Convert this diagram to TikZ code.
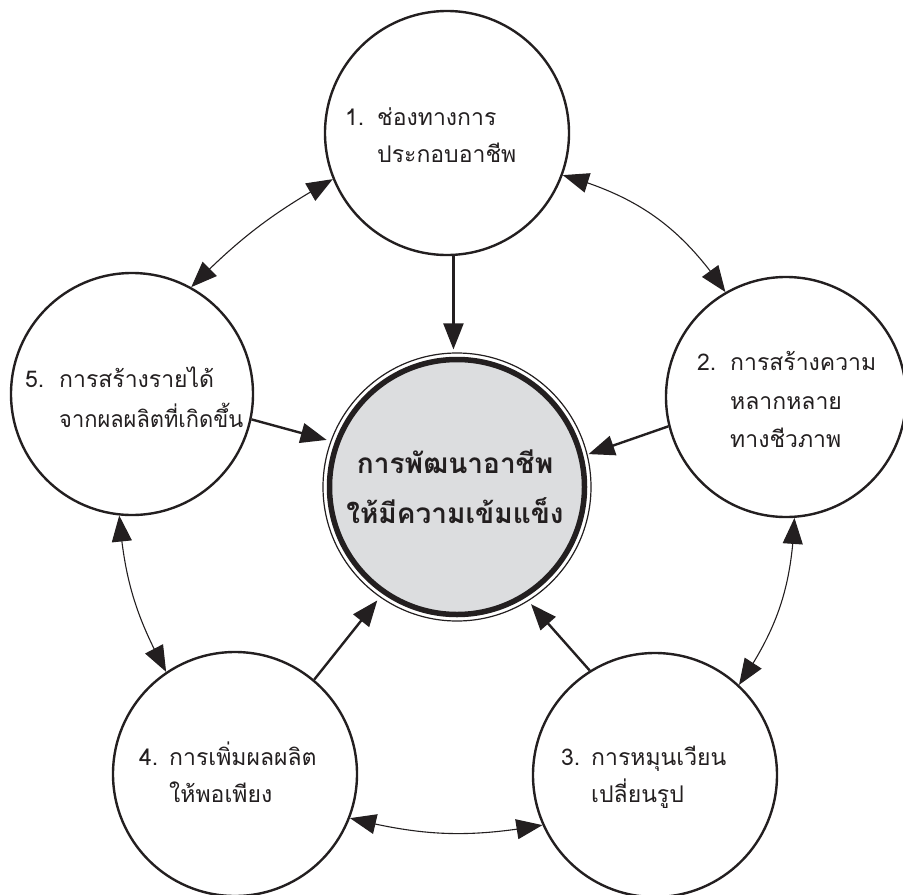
\documentclass[tikz,border=0pt]{standalone}
\usepackage{fontspec}
\newfontfamily\thaifont[Script=Thai]{Loma}
\usetikzlibrary{arrows.meta,bending}
\definecolor{ink}{RGB}{35,31,32}
\definecolor{disk}{RGB}{220,221,223}
\tikzset{
  circ/.style={circle,draw=ink,line width=2.4bp,inner sep=0pt,minimum size=244bp},
  txt/.style={inner sep=0pt,anchor=base west,text=ink,font=\thaifont\fontsize{23bp}{37bp}\selectfont},
  ctxt/.style={inner sep=0pt,anchor=base,text=ink,font=\thaifont\bfseries\fontsize{28bp}{50bp}\selectfont},
  bigtri/.tip={Triangle[length=26bp,width=20bp]},
  harr/.style={draw=ink,line width=2.4bp,-{bigtri},shorten >=4bp},
  darr/.style={draw=ink,line width=1.1bp,{bigtri}-{bigtri}},
}
\begin{document}
\begin{tikzpicture}[x=1bp,y=1bp]
\useasboundingbox (0,0) rectangle (903,-895);
% centre
\node[circle,draw=ink,fill=disk,line width=5.5bp,inner sep=0pt,minimum size=255bp] (cin) at (457,-487) {};
\node[circle,draw=ink,line width=1.2bp,inner sep=0pt,minimum size=268bp] (cc) at (457,-487) {};
\node[ctxt] (t0) at (455,-473) {\begin{tabular}[t]{@{}c@{}}การพัฒนาอาชีพ\\ให้มีความเข้มแข็ง\end{tabular}};
% outer circles
\node[circ] (c1) at (447,-133) {};
\node[circ,minimum size=240bp] (c2) at (786,-397) {};
\node[circ] (c3) at (655,-775) {};
\node[circ] (c4) at (235,-774) {};
\node[circ,minimum size=242bp] (c5) at (132,-394) {};
% texts
\node[txt] (t1) at (345,-125) {\begin{tabular}[t]{@{}p{32bp}@{}l@{}}1.&ช่องทางการ\\&ประกอบอาชีพ\end{tabular}};
\node[txt] (t2) at (697,-370) {\begin{tabular}[t]{@{}p{33bp}@{}l@{}}2.&การสร้างความ\\[2bp]&หลากหลาย\\[1bp]&ทางชีวภาพ\end{tabular}};
\node[txt] (t3) at (561,-765) {\begin{tabular}[t]{@{}p{30bp}@{}l@{}}3.&การหมุนเวียน\\&เปลี่ยนรูป\end{tabular}};
\node[txt] (t4) at (139,-765) {\begin{tabular}[t]{@{}p{30bp}@{}l@{}}4.&การเพิ่มผลผลิต\\&ให้พอเพียง\end{tabular}};
\node[txt] (t5) at (25,-387) {\begin{tabular}[t]{@{}p{34bp}@{}l@{}}5.&การสร้างรายได้\\[3bp]&\scalebox{0.95}[1]{จากผลผลิตที่เกิดขึ้น}\end{tabular}};
% arrows to centre
\draw[harr,shorten >=3bp] (c1.-87) -- (c1.-87 |- cc.north);
\draw[harr,shorten >=1bp] (c2.194) -- (cc.14);
\draw[harr] (c3.122) -- (cc.-58);
\draw[harr] (c4.50) -- (cc.235);
\draw[harr] (c5.-12) -- (cc.160);
% curved double arrows
\draw[darr] (c1.-20) to[bend left=20] (c2.120);
\draw[darr] (c2.-86) to[bend left=16] (c3.47);
\draw[darr] (c3.204) to[bend left=12] (c4.-21);
\draw[darr] (c4.124) to[bend left=12] (c5.-96);
\draw[darr] (c5.61) to[bend left=8] (c1.202);
\end{tikzpicture}
\end{document}
